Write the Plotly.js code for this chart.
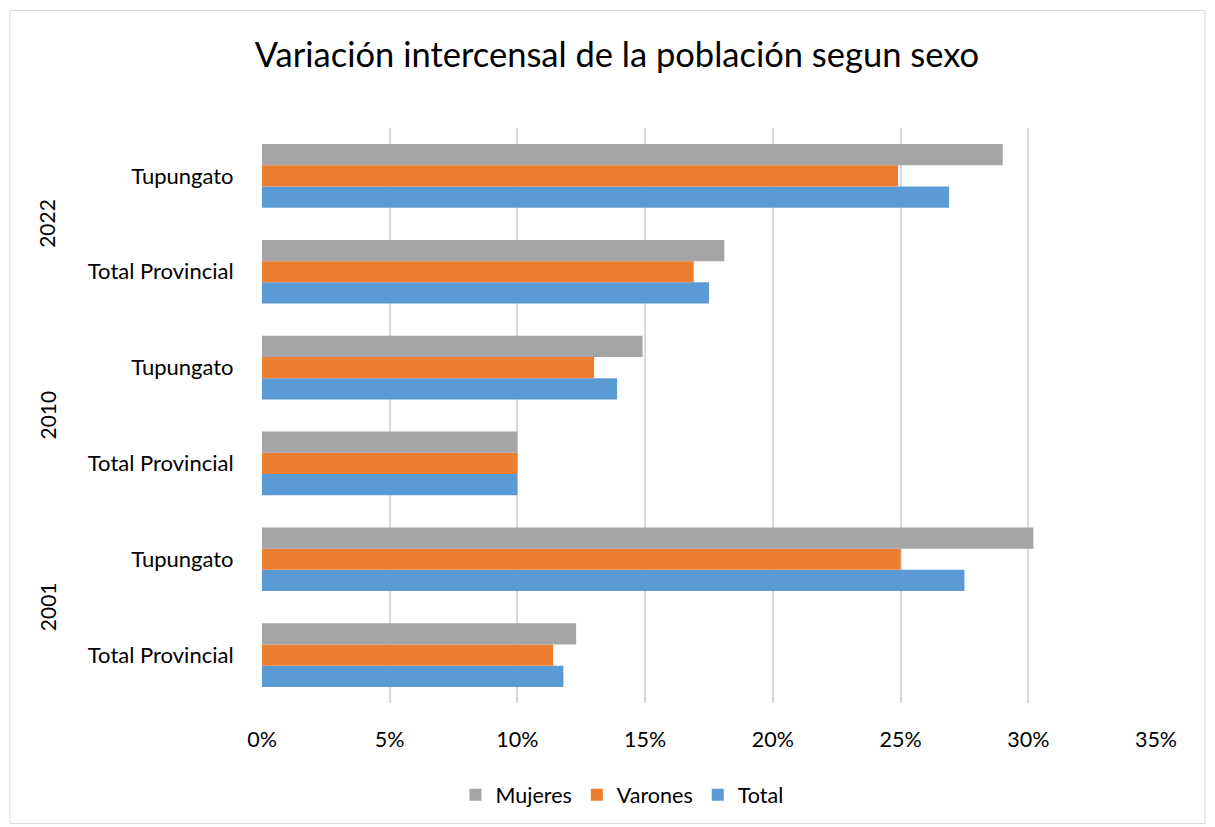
<!DOCTYPE html>
<html>
<head>
<meta charset="utf-8">
<script src="https://cdn.plot.ly/plotly-3.0.1.min.js"></script>
<style>html,body{margin:0;padding:0;background:#fff;}#chart{width:1215px;height:827px;}</style>
</head>
<body>
<div id="chart"></div>
<script>
// Categories (bottom to top)
const years = ["2001", "2001", "2010", "2010", "2022", "2022"];
const places = ["Total Provincial", "Tupungato", "Total Provincial", "Tupungato", "Total Provincial", "Tupungato"];
// Series values (fraction)
const mujeres = [0.123, 0.302, 0.100, 0.149, 0.181, 0.290];
const varones = [0.114, 0.250, 0.100, 0.130, 0.169, 0.249];
const total   = [0.118, 0.275, 0.100, 0.139, 0.175, 0.269];
const yearGroups = ["2001", "2010", "2022"];
const xTicks = [0, 0.05, 0.10, 0.15, 0.20, 0.25, 0.30, 0.35];
const xTickText = ["0%", "5%", "10%", "15%", "20%", "25%", "30%", "35%"];

const cats = years.map((y, i) => y + " | " + places[i]);

const font = "Lato, 'Open Sans', sans-serif";

const traces = [
  {name: "Total", x: total, y: cats, type: "bar", orientation: "h", marker: {color: "#5B9BD5"}},
  {name: "Varones", x: varones, y: cats, type: "bar", orientation: "h", marker: {color: "#ED7D31"}},
  {name: "Mujeres", x: mujeres, y: cats, type: "bar", orientation: "h", marker: {color: "#A5A5A5"}}
];

const L = 262, R = 59, T = 128, B = 122;
const W = 1215, H = 827;
const pw = W - L - R, ph = H - T - B;
const px = v => (v - L) / pw;
const py = v => (H - B - v) / ph;

const annotations = yearGroups.map((yr, k) => ({
  text: yr, xref: "paper", yref: "y", x: px(47), y: 2 * k + 0.5,
  textangle: -90, showarrow: false, xanchor: "center", yanchor: "middle",
  font: {family: font, size: 21, color: "#000"}
}));

const layout = {
  width: W, height: H,
  margin: {l: L, r: R, t: T, b: B},
  paper_bgcolor: "#fff", plot_bgcolor: "#fff",
  title: {text: "Variación intercensal de la población segun sexo", x: 617 / W, xref: "container", xanchor: "center",
          y: 1 - 55 / H, yref: "container", yanchor: "middle",
          font: {family: font, size: 34.5, color: "#000"}},
  barmode: "group", bargap: 0.336, bargroupgap: 0,
  xaxis: {range: [0, 0.35], tickvals: xTicks, ticktext: xTickText, showgrid: true, gridcolor: "#d9d9d9", gridwidth: 2,
          zeroline: false, showline: false, ticks: "outside", ticklen: 17, tickcolor: "rgba(0,0,0,0)",
          tickfont: {family: font, size: 21.5, color: "#000"}, fixedrange: true},
  yaxis: {type: "category", categoryorder: "array", categoryarray: cats, tickvals: cats, ticktext: places,
          showgrid: false, zeroline: false, showline: false, ticks: "outside", ticklen: 23, tickcolor: "rgba(0,0,0,0)",
          tickfont: {family: font, size: 22, color: "#000"}, fixedrange: true},
  legend: {orientation: "h", traceorder: "reversed", x: 0, xanchor: "center", xref: "paper",
           y: py(797), yanchor: "middle", font: {family: font, size: 21.5, color: "#000"}, itemwidth: 30},
  showlegend: true,
  annotations: annotations,
  shapes: [{type: "rect", xref: "paper", yref: "paper", x0: px(10), x1: px(1205), y0: py(10), y1: py(826),
            line: {color: "#d9d9d9", width: 1}, fillcolor: "rgba(0,0,0,0)", layer: "below"}]
};
layout.legend.x = px(622);

Plotly.newPlot("chart", traces, layout, {displayModeBar: false, staticPlot: true});
</script>
</body>
</html>
